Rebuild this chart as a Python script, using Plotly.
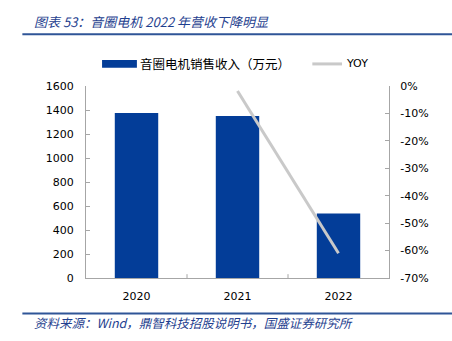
import plotly.graph_objects as go
from plotly.subplots import make_subplots

years = ["2020", "2021", "2022"]
revenue = [1375, 1350, 537]          # 音圈电机销售收入（万元）
yoy = [None, -1.8, -61.0]            # YOY, %

left_ticks = [0, 200, 400, 600, 800, 1000, 1200, 1400, 1600]
right_ticks = [0, -10, -20, -30, -40, -50, -60, -70]
right_labels = [f"{v}%" for v in right_ticks]

BLUE = "#033D98"
GRAY_LINE = "#C9C9C9"
AXIS = "#A6A6A6"
TITLE_BLUE = "#1F3F8F"
FONT = "DejaVu Sans, Verdana, sans-serif"
CJK = "Noto Sans CJK SC"

fig = make_subplots(specs=[[{"secondary_y": True}]])
fig.add_trace(go.Bar(x=years, y=revenue, name="音圈电机销售收入（万元）",
                     marker=dict(color=BLUE, line=dict(width=0)), width=0.43,
                     showlegend=False), secondary_y=False)
fig.add_trace(go.Scatter(x=years, y=yoy, name="YOY", mode="lines",
                         line=dict(color=GRAY_LINE, width=3),
                         showlegend=False, connectgaps=False), secondary_y=True)

fig.update_layout(
    width=452, height=341,
    margin=dict(l=86, r=63, t=86, b=63),
    paper_bgcolor="white", plot_bgcolor="white",
    font=dict(family=FONT, size=11, color="#000000"),
    bargap=0.57,
)
fig.update_xaxes(domain=[0, 1], showgrid=False, showline=True, linecolor=AXIS, linewidth=1,
                 ticks="", tickfont=dict(size=11, family=FONT, color="#000"),
                 ticklabelstandoff=8)
fig.update_yaxes(range=[0, 1600], tickvals=left_ticks, showgrid=False,
                 showline=True, linecolor=AXIS, linewidth=1, ticks="inside",
                 ticklen=4, tickcolor=AXIS, zeroline=False,
                 tickfont=dict(size=11, family=FONT, color="#000"),
                 ticklabelstandoff=9, secondary_y=False)
fig.update_yaxes(range=[-70, 0], tickvals=right_ticks, ticktext=right_labels,
                 showgrid=False, showline=True, linecolor=AXIS, linewidth=1,
                 ticks="inside", ticklen=4, tickcolor=AXIS, zeroline=False,
                 tickfont=dict(size=11, family=FONT, color="#000"),
                 ticklabelstandoff=8, secondary_y=True)

# category separator ticks on x axis (inside)
for xb in [1/3, 2/3]:
    fig.add_shape(type="line", xref="paper", yref="paper", x0=xb, x1=xb,
                  y0=0, y1=0.02, line=dict(color=AXIS, width=1))

# header / footer
fig.add_annotation(text="<i>图表 53：音圈电机 2022 年营收下降明显</i>", xref="paper", yref="paper",
                   x=-0.178, y=1.335, xanchor="left", yanchor="middle", showarrow=False,
                   font=dict(family=CJK, size=13, color=TITLE_BLUE))
fig.add_shape(type="line", xref="paper", yref="paper", x0=-0.21, x1=1.21,
              y0=1.27, y1=1.27, line=dict(color="#2F5597", width=2))
fig.add_shape(type="line", xref="paper", yref="paper", x0=-0.21, x1=1.21,
              y0=-0.185, y1=-0.185, line=dict(color="#2F5597", width=2))
fig.add_annotation(text="<i>资料来源：Wind，鼎智科技招股说明书，国盛证券研究所</i>", xref="paper", yref="paper",
                   x=-0.178, y=-0.232, xanchor="left", yanchor="middle", showarrow=False,
                   font=dict(family=CJK, size=12.5, color=TITLE_BLUE))

# legend drawn manually
fig.add_shape(type="rect", xref="paper", yref="paper", x0=0.053, x1=0.168,
              y0=1.095, y1=1.135, fillcolor=BLUE, line=dict(width=0))
fig.add_annotation(text="音圈电机销售收入（万元）", xref="paper", yref="paper",
                   x=0.172, y=1.115, xanchor="left", yanchor="middle", showarrow=False,
                   font=dict(family=CJK, size=12.5, color="#000"))
fig.add_shape(type="line", xref="paper", yref="paper", x0=0.747, x1=0.845,
              y0=1.115, y1=1.115, line=dict(color=GRAY_LINE, width=3))
fig.add_annotation(text="YOY", xref="paper", yref="paper",
                   x=0.85, y=1.115, xanchor="left", yanchor="middle", showarrow=False,
                   font=dict(family=FONT, size=11, color="#000"))

fig.write_html("out.html")
